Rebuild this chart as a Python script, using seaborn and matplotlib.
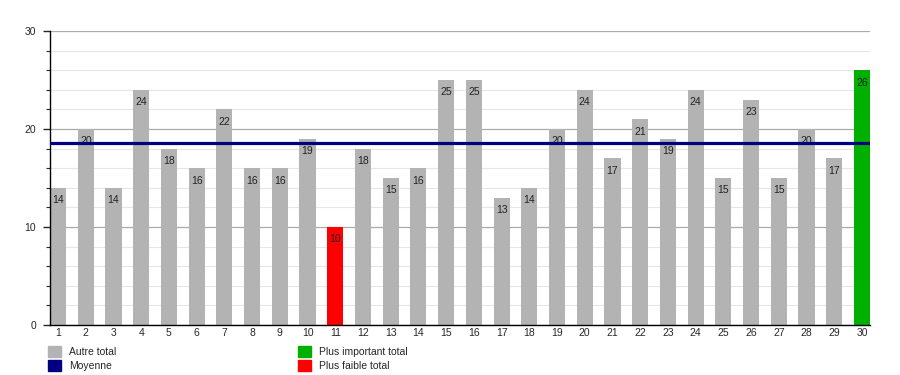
import matplotlib
matplotlib.use("Agg")
import matplotlib.pyplot as plt
import seaborn as sns
import numpy as np
from matplotlib.patches import Patch
from matplotlib.ticker import MultipleLocator

# Data
days = [str(i) for i in range(1, 31)]
totals = [14, 20, 14, 24, 18, 16, 22, 16, 16, 19, 10, 18, 15, 16, 25,
          25, 13, 14, 20, 24, 17, 21, 19, 24, 15, 23, 15, 20, 17, 26]
legend_labels = ["Autre total", "Moyenne", "Plus important total", "Plus faible total"]

gray = "#b3b3b3"
green = "#00b000"
red = "#ff0000"
navy = "#000080"

mean_total = np.mean(totals)
colors = []
for v in totals:
    if v == max(totals):
        colors.append(green)
    elif v == min(totals):
        colors.append(red)
    else:
        colors.append(gray)

sns.set_style("white")
plt.rcParams['font.family'] = ['Liberation Sans', 'DejaVu Sans']

fig = plt.figure(figsize=(9, 3.75), dpi=100)
ax = fig.add_axes([50 / 900, 50 / 375, 820 / 900, 294 / 375])

sns.barplot(x=days, y=totals, hue=days, palette=colors, legend=False,
            width=0.58, saturation=1, linewidth=0, ax=ax)

# value labels inside bars
for i, v in enumerate(totals):
    ax.text(i, v - 0.75, str(v), ha="center", va="top", fontsize=7.5, color="#222222")

ax.axhline(mean_total, color=navy, lw=2.3, zorder=3)

ax.set_ylim(0, 30)
ax.set_xlim(-0.29, 29.29)
ax.yaxis.set_major_locator(MultipleLocator(10))
ax.yaxis.set_minor_locator(MultipleLocator(2))
ax.grid(axis="y", which="major", color="#aaaaaa", lw=0.9)
ax.grid(axis="y", which="minor", color="#e6e6e6", lw=0.8)
ax.set_axisbelow(True)

for s in ["top", "right"]:
    ax.spines[s].set_visible(False)
ax.spines["left"].set_color("black")
ax.spines["bottom"].set_color("black")
ax.spines["left"].set_linewidth(1)
ax.spines["bottom"].set_linewidth(1)

ax.tick_params(axis="y", which="major", left=True, length=5, width=1, labelsize=7.5, pad=5)
ax.tick_params(axis="y", which="minor", left=True, length=3, width=0.8)
ax.tick_params(axis="x", bottom=False, length=0, labelsize=7.5, pad=2)
ax.set_xlabel("")
ax.set_ylabel("")

h1 = [Patch(color=gray), Patch(color=navy)]
h2 = [Patch(color=green), Patch(color=red)]
leg_y = (375 - 338) / 375
fig.legend(h1, legend_labels[:2], loc="upper left", bbox_to_anchor=(40 / 900, leg_y),
           frameon=False, fontsize=7.5, handlelength=1.2, handleheight=1.2,
           labelspacing=0.3, handletextpad=0.8, borderpad=0.3)
fig.legend(h2, legend_labels[2:], loc="upper left", bbox_to_anchor=(290 / 900, leg_y),
           frameon=False, fontsize=7.5, handlelength=1.2, handleheight=1.2,
           labelspacing=0.3, handletextpad=0.8, borderpad=0.3)

fig.savefig("out.png", dpi=100)
